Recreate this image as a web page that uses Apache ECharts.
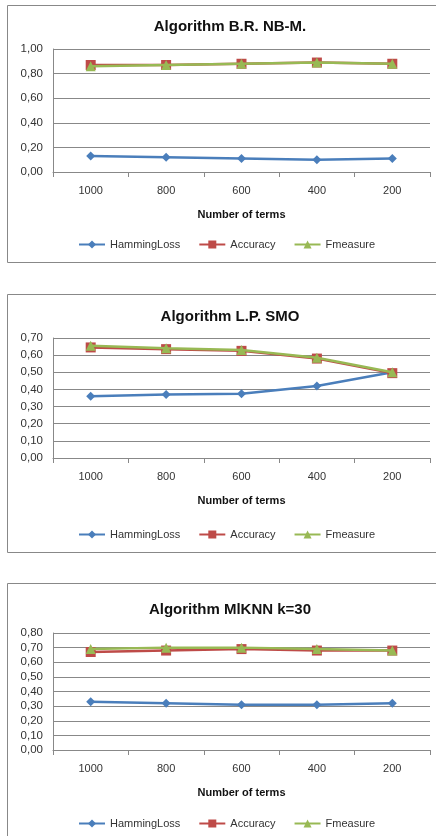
<!DOCTYPE html>
<html><head><meta charset="utf-8">
<script src="https://cdn.jsdelivr.net/npm/echarts@6/dist/echarts.min.js"></script>
<style>html,body{margin:0;padding:0;background:#fff}#c{width:436px;height:836px}</style>
</head><body><div id="c"></div>
<script>
const categories = ['1000','800','600','400','200'];
const seriesNames = ['HammingLoss','Accuracy','Fmeasure'];
const titles = ['Algorithm B.R. NB-M.','Algorithm L.P. SMO','Algorithm MlKNN k=30'];
const xAxisName = 'Number of terms';
// chart 1
const brHamming = [0.13,0.12,0.11,0.10,0.11];
const brAccuracy = [0.87,0.87,0.88,0.89,0.88];
const brFmeasure = [0.86,0.87,0.88,0.89,0.88];
// chart 2
const lpHamming = [0.36,0.37,0.375,0.42,0.50];
const lpAccuracy = [0.645,0.635,0.625,0.58,0.495];
const lpFmeasure = [0.655,0.64,0.63,0.585,0.50];
// chart 3
const mlHamming = [0.33,0.32,0.31,0.31,0.32];
const mlAccuracy = [0.67,0.68,0.69,0.68,0.68];
const mlFmeasure = [0.69,0.70,0.70,0.69,0.68];
const yMax = [1.0, 0.7, 0.8];
const yInterval = [0.2, 0.1, 0.1];

const data = [[brHamming,brAccuracy,brFmeasure],[lpHamming,lpAccuracy,lpFmeasure],[mlHamming,mlAccuracy,mlFmeasure]];
const colors = ['#4a7ebb','#be4b48','#98b954'];
const symbols = ['diamond','rect','triangle'];
const symbolSizes = [9,10,10];
const FONT = 'Liberation Sans';

const gridTops = [49, 338, 633];
const gridHeights = [123, 120, 117];
const titleTops = [14, 304, 597];
const legendTops = [234, 524, 813];
const boxes = [[7.5,5.5,460,257],[7.5,294.5,460,258],[7.5,583.5,460,300]];

const option = {
  animation:false,
  textStyle:{fontFamily:FONT},
  title: titles.map((t,i)=>({text:t,left:225,textAlign:'center',top:titleTops[i],
    textStyle:{fontFamily:FONT,fontSize:15,fontWeight:'bold',color:'#111'}})),
  legend: legendTops.map(t=>({data:seriesNames,top:t,left:73,itemWidth:26,itemHeight:10,itemGap:18,
    textStyle:{fontFamily:FONT,fontSize:11,color:'#333'}})),
  grid: gridTops.map((t,i)=>({left:53,right:6,top:t,height:gridHeights[i]})),
  xAxis: gridTops.map((t,i)=>({type:'category',gridIndex:i,data:categories,boundaryGap:true,
    name:xAxisName,nameLocation:'middle',nameGap:37,
    nameTextStyle:{fontFamily:FONT,fontSize:11,fontWeight:'bold',color:'#111'},
    axisLine:{show:true,lineStyle:{color:'#888',width:1}},
    axisTick:{show:true,length:5,interval:0,lineStyle:{color:'#888'}},
    axisLabel:{fontFamily:FONT,fontSize:11,color:'#333',margin:13}})),
  yAxis: gridTops.map((t,i)=>({type:'value',gridIndex:i,min:0,max:yMax[i],interval:yInterval[i],
    axisLine:{show:true,lineStyle:{color:'#888',width:1}},
    axisTick:{show:false},
    splitLine:{show:true,lineStyle:{color:'#888',width:1}},
    axisLabel:{fontFamily:FONT,fontSize:11.5,color:'#333',margin:10,
      formatter:v=>v.toFixed(2).replace('.',',')}})),
  graphic: boxes.map(b=>({type:'rect',shape:{x:b[0],y:b[1],width:b[2],height:b[3]},
    style:{fill:'none',stroke:'#888',lineWidth:1},silent:true,z:-1})),
  series: []
};
data.forEach((grp,gi)=>{
  grp.forEach((vals,si)=>{
    option.series.push({type:'line',name:seriesNames[si],xAxisIndex:gi,yAxisIndex:gi,data:vals,
      symbol:symbols[si],symbolSize:symbolSizes[si],showAllSymbol:true,
      lineStyle:{color:colors[si],width:2.5},itemStyle:{color:colors[si]},z:2+si});
  });
});
const chart = echarts.init(document.getElementById('c'),null,{renderer:'canvas'});
chart.setOption(option);
</script></body></html>
